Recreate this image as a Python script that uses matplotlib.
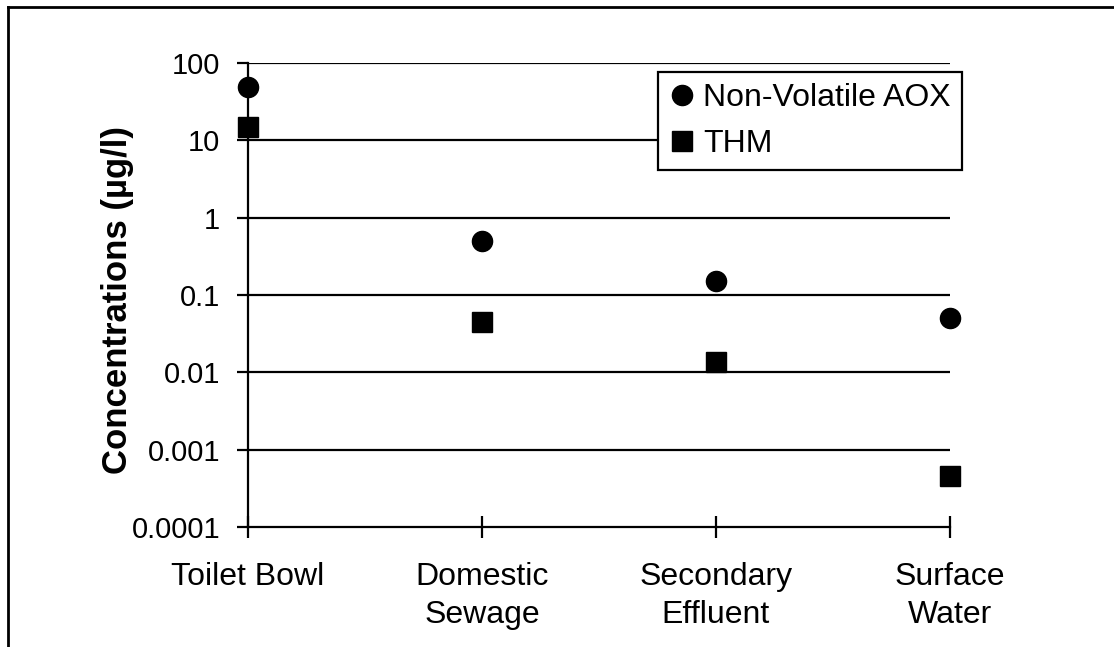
import numpy as np
import matplotlib.pyplot as plt
from matplotlib.lines import Line2D

plt.rcParams['font.family'] = ['Liberation Sans', 'DejaVu Sans']

categories = ["Toilet Bowl", "Domestic\nSewage", "Secondary\nEffluent", "Surface\nWater"]
aox = [49, 0.5, 0.15, 0.05]
thm = [15, 0.045, 0.0135, 0.00046]
yticks = [0.0001, 0.001, 0.01, 0.1, 1, 10, 100]
ytick_labels = ["0.0001", "0.001", "0.01", "0.1", "1", "10", "100"]

fig = plt.figure(figsize=(11.14, 6.47), dpi=100)
ax = fig.add_axes([248 / 1114, 1 - 527 / 647, 702 / 1114, 464 / 647])

x = np.arange(len(categories))
ax.plot(x, aox, 'o', color='black', markersize=14.5, label="Non-Volatile AOX", clip_on=False, zorder=5)
ax.plot(x, thm, 's', color='black', markersize=14, label="THM", clip_on=False, zorder=5)

ax.set_yscale('log')
ax.set_ylim(0.0001, 100)
ax.set_xlim(0, 3)
ax.set_yticks(yticks)
ax.set_yticklabels(ytick_labels)
ax.yaxis.set_minor_locator(plt.NullLocator())
ax.set_xticks(x)
ax.set_xticklabels(categories, linespacing=1.35)

for y in yticks[1:]:
    ax.axhline(y, color='black', linewidth=1.6, zorder=1)

for s in ['top', 'right']:
    ax.spines[s].set_visible(False)
ax.spines['left'].set_linewidth(1.6)
ax.spines['bottom'].set_linewidth(1.6)

ax.tick_params(axis='y', direction='out', length=8, width=1.6, labelsize=21, pad=12)
ax.tick_params(axis='x', direction='inout', length=16, width=1.6, labelsize=23, pad=17)

ax.set_ylabel("Concentrations (\u00b5g/l)", fontsize=25, fontweight='bold')
ax.yaxis.set_label_coords(-0.162, 0.49)

leg = ax.legend(loc='upper right', bbox_to_anchor=(1.017, 0.981), fontsize=23, frameon=True,
                fancybox=False, edgecolor='black', handlelength=0.8, handletextpad=0.25,
                borderpad=0.35, labelspacing=0.5, borderaxespad=0, framealpha=1)
leg.get_frame().set_linewidth(1.6)

fig.add_artist(Line2D([8 / 1114, 8 / 1114], [0, 1 - 7 / 647], color='black', linewidth=2))
fig.add_artist(Line2D([8 / 1114, 1], [1 - 7 / 647, 1 - 7 / 647], color='black', linewidth=2))

fig.savefig("out.png", dpi=100)
